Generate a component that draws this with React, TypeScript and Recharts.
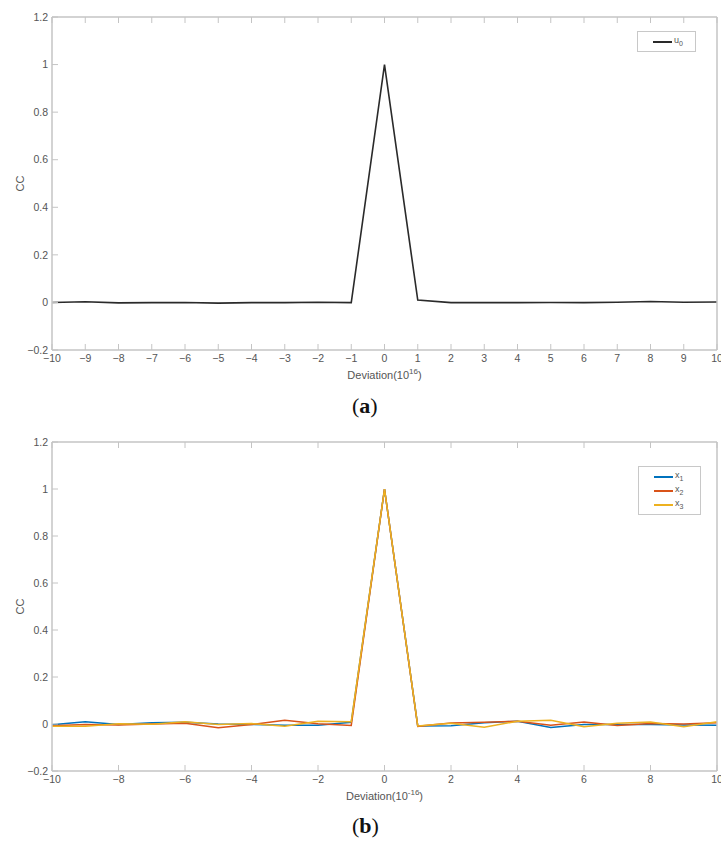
import React from 'react';
import { LineChart, Line, XAxis, YAxis, Legend, Label } from 'recharts';

const deviation = [-10, -9, -8, -7, -6, -5, -4, -3, -2, -1, 0, 1, 2, 3, 4, 5, 6, 7, 8, 9, 10];
const u0 = [0, 0.003, -0.002, -0.001, 0, -0.003, -0.001, -0.001, 0.001, -0.001, 1, 0.01, -0.001, -0.001, -0.001, 0, -0.001, 0.001, 0.004, 0.001, 0.002];
const x1 = [-0.003, 0.01, -0.002, 0.005, 0.007, 0, -0.002, -0.005, -0.005, 0.007, 1, -0.008, -0.007, 0.005, 0.012, -0.015, -0.002, -0.002, -0.002, -0.004, -0.005];
const x2 = [-0.007, -0.002, -0.004, 0, 0.003, -0.016, -0.002, 0.016, 0.001, -0.006, 1, -0.01, 0.004, 0.007, 0.012, -0.005, 0.008, -0.006, 0.002, 0, 0.005];
const x3 = [-0.01, -0.01, 0.001, -0.001, 0.01, -0.002, 0.002, -0.01, 0.012, 0.01, 1, -0.008, 0.003, -0.014, 0.012, 0.016, -0.012, 0.003, 0.008, -0.012, 0.01];

const yTicks = [-0.2, 0, 0.2, 0.4, 0.6, 0.8, 1, 1.2];
const xTicksA = [-10, -9, -8, -7, -6, -5, -4, -3, -2, -1, 0, 1, 2, 3, 4, 5, 6, 7, 8, 9, 10];
const xTicksB = [-10, -8, -6, -4, -2, 0, 2, 4, 6, 8, 10];

const dataA = deviation.map((d, i) => ({ d, u0: u0[i] }));
const dataB = deviation.map((d, i) => ({ d, x1: x1[i], x2: x2[i], x3: x3[i] }));

const FONT = '"Liberation Sans", Arial, sans-serif';
const AXIS = '#c4c4c4';
const TXT = '#555';

const fmt = (v: number) => {
  const s = String(Math.round(v * 10) / 10);
  return s.replace('-', '\u2212');
};
const blank = () => '';

const tickStyle = { fontSize: 10.5, fill: TXT, fontFamily: FONT };

const SubLegend = (props: any) => {
  const { payload } = props;
  return (
    <div style={{ border: '1px solid #c8c8c8', background: '#fff', padding: '3px 0 2px 0', fontFamily: FONT, fontSize: 9, color: TXT, boxSizing: 'border-box' }}>
      {payload.map((p: any) => (
        <div key={p.value} style={{ display: 'flex', alignItems: 'center', height: 14, paddingLeft: 15 }}>
          <div style={{ width: 19, height: 2, background: p.color, marginRight: 2 }} />
          <span style={{ lineHeight: '10px' }}>
            {String(p.value).charAt(0)}
            <sub style={{ fontSize: 7 }}>{String(p.value).slice(1)}</sub>
          </span>
        </div>
      ))}
    </div>
  );
};

const xLabel = (sup: string) => (props: any) => {
  const vb = props.viewBox;
  const cx = vb.x + vb.width / 2;
  const y = vb.y + 29;
  return (
    <text x={cx} y={y} textAnchor="middle" fontFamily={FONT} fontSize={11} fill={TXT}>
      Deviation(10
      <tspan dy={-5} fontSize={8}>{sup}</tspan>
      <tspan dy={5}>)</tspan>
    </text>
  );
};

const yLabel = (props: any) => {
  const vb = props.viewBox;
  const cy = vb.y + vb.height / 2;
  const x = 24;
  return (
    <text x={x} y={cy} transform={`rotate(-90 ${x} ${cy})`} textAnchor="middle" fontFamily={FONT} fontSize={11} fill={TXT}>
      CC
    </text>
  );
};

const axes = (xTicks: number[], sup: string) => [
  <XAxis key="xb" xAxisId="b" dataKey="d" type="number" domain={[-10, 10]} ticks={xTicks} interval={0}
    height={1} tickSize={-6} tickMargin={11} stroke={AXIS} tick={tickStyle} tickFormatter={fmt}
    axisLine={{ stroke: AXIS, strokeWidth: 1.5 }} tickLine={{ stroke: AXIS }}>
    <Label content={xLabel(sup)} />
  </XAxis>,
  <XAxis key="xt" xAxisId="t" orientation="top" dataKey="d" type="number" domain={[-10, 10]} ticks={xTicks} interval={0}
    height={1} tickSize={-6} tickMargin={0} stroke={AXIS} tickFormatter={blank}
    axisLine={{ stroke: AXIS, strokeWidth: 1.5 }} tickLine={{ stroke: AXIS }} />,
  <YAxis key="yl" yAxisId="l" domain={[-0.2, 1.2]} ticks={yTicks} interval={0} width={1}
    tickSize={-6} tickMargin={10} tick={tickStyle} tickFormatter={fmt}
    axisLine={{ stroke: AXIS, strokeWidth: 1.5 }} tickLine={{ stroke: AXIS }}>
    <Label content={yLabel} />
  </YAxis>,
  <YAxis key="yr" yAxisId="r" orientation="right" domain={[-0.2, 1.2]} ticks={yTicks} interval={0} width={1}
    tickSize={-6} tickMargin={0} tickFormatter={blank}
    axisLine={{ stroke: AXIS, strokeWidth: 1.5 }} tickLine={{ stroke: AXIS }} />,
];

const Caption = ({ letter, top }: { letter: string; top: number }) => (
  <div style={{ position: 'absolute', left: 352, top, fontFamily: '"Liberation Serif", "DejaVu Serif", serif', fontSize: 22, color: '#111', lineHeight: '24px' }}>
    (<b>{letter}</b>)
  </div>
);

export default function App() {
  return (
    <div style={{ position: 'absolute', left: 0, top: 0, width: 721, height: 843, background: '#fff', overflow: 'hidden' }}>
      <div style={{ position: 'absolute', left: 0, top: 0 }}>
        <LineChart width={721} height={420} data={dataA} margin={{ top: 16, right: 3, bottom: 69, left: 51 }}>
          {axes(xTicksA, '16')}
          <Legend layout="vertical" align="center" verticalAlign="middle" content={<SubLegend />}
            wrapperStyle={{ position: 'absolute', left: 637, top: 31, width: 59, height: 26, bottom: 'auto', right: 'auto' }} />
          <Line xAxisId="b" yAxisId="l" type="linear" dataKey="u0" name="u0" stroke="#2a2a2a" strokeWidth={1.6} dot={false} isAnimationActive={false} />
        </LineChart>
      </div>
      <Caption letter="a" top={394} />
      <div style={{ position: 'absolute', left: 0, top: 420 }}>
        <LineChart width={721} height={423} data={dataB} margin={{ top: 21, right: 3, bottom: 71, left: 51 }}>
          {axes(xTicksB, '-16')}
          <Legend layout="vertical" align="center" verticalAlign="middle" content={<SubLegend />}
            wrapperStyle={{ position: 'absolute', left: 638, top: 46, width: 63, height: 46, bottom: 'auto', right: 'auto' }} />
          <Line xAxisId="b" yAxisId="l" type="linear" dataKey="x1" name="x1" stroke="#0072BD" strokeWidth={1.5} dot={false} isAnimationActive={false} />
          <Line xAxisId="b" yAxisId="l" type="linear" dataKey="x2" name="x2" stroke="#D95319" strokeWidth={1.5} dot={false} isAnimationActive={false} />
          <Line xAxisId="b" yAxisId="l" type="linear" dataKey="x3" name="x3" stroke="#EDB120" strokeWidth={1.5} dot={false} isAnimationActive={false} />
        </LineChart>
      </div>
      <Caption letter="b" top={814} />
    </div>
  );
}
